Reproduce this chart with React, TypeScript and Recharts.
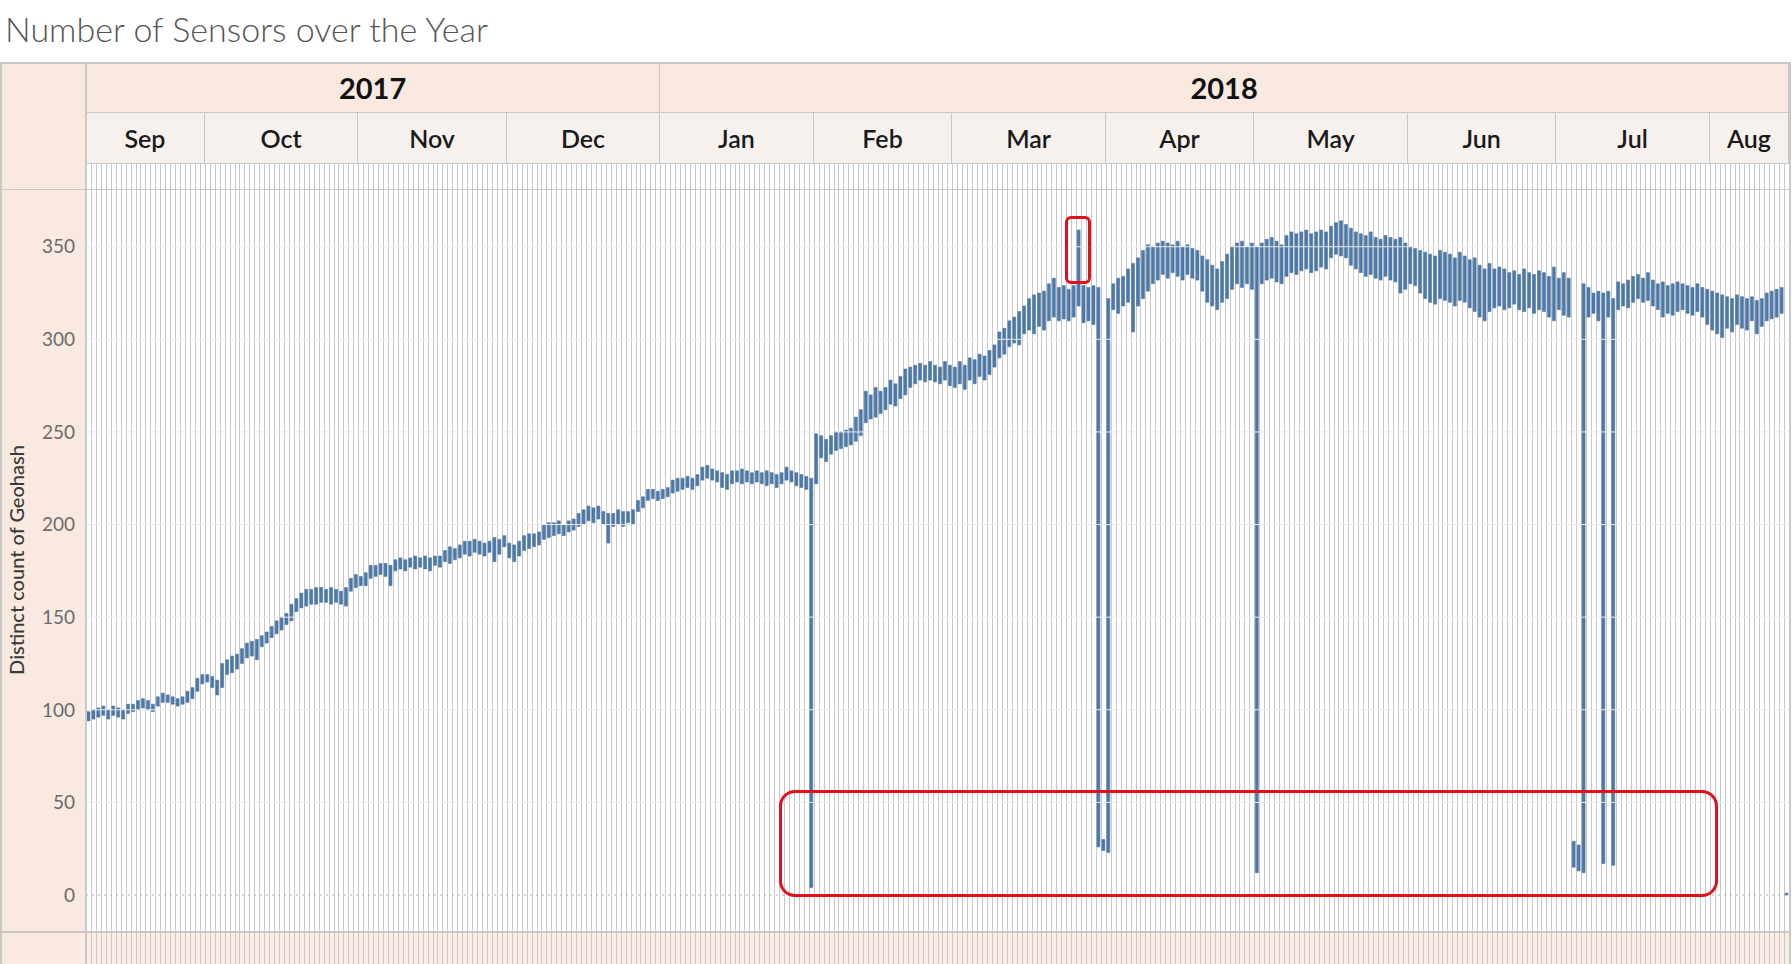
import React from "react";
import {
  Bar,
  CartesianGrid,
  ComposedChart,
  ReferenceLine,
  XAxis,
  YAxis,
} from "recharts";

// daily [min, max] of the distinct geohash count, one pair per day pane
const sep17 = [
  [94, 99], [95, 100], [96, 101], [97, 102], [95, 100], [97, 102], [96, 101], [95, 100],
  [98, 103], [99, 103], [100, 105], [101, 106], [100, 105], [99, 103], [102, 107], [104, 109],
  [104, 108], [103, 107], [102, 106], [103, 107], [104, 110], [106, 112], [110, 117], [114, 119],
];
const oct17 = [
  [115, 119], [112, 118], [108, 116], [112, 125], [119, 127], [120, 129], [122, 130], [125, 133],
  [128, 136], [129, 137], [127, 138], [134, 140], [136, 142], [139, 145], [141, 148], [143, 150],
  [146, 152], [148, 157], [153, 160], [155, 163], [156, 165], [157, 165], [157, 166], [158, 166],
  [158, 165], [157, 166], [158, 165], [157, 164], [156, 166], [164, 171], [166, 173],
];
const nov17 = [
  [167, 172], [167, 174], [171, 178], [172, 178], [173, 179], [172, 179], [167, 178], [175, 181],
  [176, 182], [175, 181], [177, 182], [176, 183], [177, 182], [176, 183], [175, 182], [178, 183],
  [177, 183], [180, 186], [179, 188], [181, 187], [182, 189], [184, 191], [183, 191], [185, 192],
  [184, 191], [183, 190], [185, 191], [180, 193], [184, 192], [188, 194],
];
const dec17 = [
  [182, 190], [180, 189], [183, 191], [186, 194], [187, 195], [188, 195], [189, 196], [192, 200],
  [193, 201], [194, 201], [195, 202], [194, 200], [196, 202], [197, 203], [199, 206], [200, 208],
  [202, 210], [201, 209], [203, 210], [200, 207], [190, 206], [199, 206], [200, 208], [199, 207],
  [201, 207], [200, 208], [207, 213], [209, 215], [213, 219], [214, 219], [213, 218],
];
const jan18 = [
  [214, 219], [215, 220], [217, 224], [218, 225], [219, 225], [220, 226], [219, 225], [221, 227],
  [224, 231], [225, 232], [224, 230], [223, 229], [220, 228], [219, 227], [222, 229], [223, 229],
  [222, 230], [223, 229], [222, 228], [223, 229], [222, 228], [221, 229], [222, 228], [220, 227],
  [222, 228], [224, 231], [223, 229], [221, 228], [220, 227], [219, 226], [4, 225],
];
const feb18 = [
  [222, 249], [236, 248], [234, 246], [238, 248], [240, 250], [241, 250], [242, 251], [243, 252],
  [245, 258], [248, 262], [255, 272], [257, 270], [258, 274], [260, 272], [262, 274], [265, 278],
  [264, 276], [268, 280], [270, 284], [274, 285], [276, 286], [278, 287], [277, 286], [278, 288],
  [277, 286], [276, 285], [278, 288], [275, 286],
];
const mar18 = [
  [274, 285], [276, 288], [273, 286], [278, 290], [276, 289], [280, 292], [278, 291], [281, 294],
  [285, 297], [290, 304], [292, 306], [296, 310], [298, 312], [297, 315], [303, 318], [305, 322],
  [303, 324], [307, 325], [305, 326], [310, 330], [312, 333], [310, 328], [311, 329], [310, 327],
  [312, 329], [318, 359], [309, 329], [310, 328], [308, 329], [26, 328], [24, 30],
];
const apr18 = [
  [23, 322], [316, 330], [314, 333], [318, 334], [320, 338], [304, 341], [318, 344], [322, 348],
  [326, 351], [330, 350], [332, 352], [335, 353], [333, 352], [336, 351], [334, 353], [332, 350],
  [335, 351], [333, 349], [332, 348], [326, 345], [320, 343], [318, 340], [316, 338], [320, 342],
  [322, 346], [327, 350], [330, 352], [328, 353], [330, 350], [327, 352],
];
const may18 = [
  [12, 350], [330, 352], [332, 354], [333, 355], [331, 353], [330, 351], [334, 356], [336, 358],
  [335, 357], [337, 358], [338, 359], [336, 357], [337, 358], [339, 359], [338, 358], [344, 361],
  [346, 363], [345, 364], [344, 362], [340, 360], [338, 358], [336, 357], [334, 356], [335, 358],
  [333, 355], [332, 354], [334, 356], [332, 355], [331, 354], [325, 355], [327, 352],
];
const jun18 = [
  [330, 350], [329, 349], [325, 348], [322, 347], [320, 346], [319, 345], [322, 348], [321, 347],
  [320, 346], [318, 344], [321, 347], [320, 345], [317, 343], [315, 344], [312, 340], [310, 338],
  [315, 341], [317, 338], [318, 339], [316, 338], [317, 336], [319, 337], [316, 335], [315, 338],
  [317, 336], [314, 335], [316, 337], [315, 336], [312, 334], [310, 339],
];
const jul18 = [
  [316, 333], [313, 336], [312, 333], [15, 29], [13, 27], [12, 330], [312, 328], [314, 325],
  [310, 326], [17, 325], [312, 326], [16, 322], [316, 331], [318, 330], [317, 332], [320, 334],
  [322, 335], [320, 333], [321, 336], [318, 332], [316, 330], [312, 331], [314, 329], [313, 330],
  [315, 331], [316, 330], [314, 329], [313, 328], [315, 330], [312, 328], [308, 327],
];
const aug18 = [
  [305, 326], [303, 325], [301, 324], [306, 323], [304, 322], [308, 324], [306, 323], [305, 322],
  [310, 323], [303, 321], [307, 322], [310, 325], [311, 326], [312, 327], [314, 328], [0, 1],
];

const monthLabels = ["Sep", "Oct", "Nov", "Dec", "Jan", "Feb", "Mar", "Apr", "May", "Jun", "Jul", "Aug"];
const monthFirstDay = [7, 1, 1, 1, 1, 1, 1, 1, 1, 1, 1, 1];
const monthValues = [sep17, oct17, nov17, dec17, jan18, feb18, mar18, apr18, may18, jun18, jul18, aug18];
const yearLabels = ["2017", "2018"];
const monthsPerYear = [4, 8];
const yTicks = [0, 50, 100, 150, 200, 250, 300, 350];
const gridTicks = [50, 100, 150, 200, 250, 300, 350];

const data = monthValues.flatMap((days, m) =>
  days.map((r, i) => ({
    day: `${monthLabels[m]} ${monthFirstDay[m] + i}`,
    range: r,
  }))
);

const W = 1792;
const PLOT_L = 86;
const PLOT_R = 1789;
const N = data.length;
const dayW = (PLOT_R - PLOT_L) / N;
const TABLE_TOP = 62;
const MONTH_TOP = 112;
const STRIP_TOP = 163;
const PLOT_TOP = 189;
const PLOT_BOTTOM = 931;
const H = 964;

const PINK = "#f9e9e0";
const LIGHT = "#f7f1ee";
const LINE = "#c8c8c8";
const BLUE = "#4e79a7";
const FONT = "Lato, 'Open Sans', sans-serif";

const monthStart: number[] = [];
monthValues.reduce((acc, d) => {
  monthStart.push(acc);
  return acc + d.length;
}, 0);

const dayLines = ({ offset }: any) => {
  const out: number[] = [];
  for (let i = 0; i <= N; i++) {
    out.push(Math.round(offset.left + (i * offset.width) / N) + 0.5);
  }
  return out;
};

const abs = (s: React.CSSProperties): React.CSSProperties => ({ position: "absolute", ...s });

export default function App() {
  let monthIdx = 0;
  const yearCells = yearLabels.map((y, k) => {
    const first = monthIdx;
    monthIdx += monthsPerYear[k];
    const startDay = monthStart[first];
    const endDay = monthIdx < monthStart.length ? monthStart[monthIdx] : N;
    return { y, left: PLOT_L + startDay * dayW, width: (endDay - startDay) * dayW };
  });

  return (
    <div style={abs({ left: 0, top: 0, width: W, height: H, background: "#fff", overflow: "hidden", fontFamily: FONT })}>
      <div
        style={abs({
          left: 5, top: 9, fontSize: 34, lineHeight: "40px", fontWeight: 300,
          color: "#555", fontFamily: FONT, whiteSpace: "nowrap",
        })}
      >
        Number of Sensors over the Year
      </div>

      {/* backgrounds */}
      <div style={abs({ left: 0, top: TABLE_TOP, width: PLOT_L, height: H - TABLE_TOP, background: PINK })} />
      <div style={abs({ left: PLOT_L, top: TABLE_TOP, width: PLOT_R - PLOT_L, height: MONTH_TOP - TABLE_TOP, background: PINK })} />
      <div style={abs({ left: PLOT_L, top: MONTH_TOP, width: PLOT_R - PLOT_L, height: STRIP_TOP - MONTH_TOP, background: LIGHT })} />
      <div style={abs({ left: PLOT_L, top: PLOT_BOTTOM, width: PLOT_R - PLOT_L, height: H - PLOT_BOTTOM, background: "#fbece5" })} />

      {/* year row */}
      {yearCells.map((c) => (
        <div
          key={c.y}
          style={abs({
            left: c.left, top: TABLE_TOP, width: c.width, height: MONTH_TOP - TABLE_TOP,
            display: "flex", alignItems: "center", justifyContent: "center",
            fontSize: 29, fontWeight: 700, color: "#111", borderRight: `1px solid ${LINE}`, boxSizing: "border-box",
          })}
        >
          {c.y}
        </div>
      ))}

      {/* month row */}
      {monthLabels.map((m, k) => (
        <div
          key={m}
          style={abs({
            left: PLOT_L + monthStart[k] * dayW, top: MONTH_TOP,
            width: monthValues[k].length * dayW, height: STRIP_TOP - MONTH_TOP,
            display: "flex", alignItems: "center", justifyContent: "center",
            fontSize: 25, fontWeight: 600, color: "#1a1a1a", borderRight: `1px solid ${LINE}`, boxSizing: "border-box",
          })}
        >
          {m}
        </div>
      ))}

      <div style={abs({ left: 0, top: PLOT_TOP, width: PLOT_L, height: PLOT_BOTTOM - PLOT_TOP, display: "flex", alignItems: "center", justifyContent: "center" })}>
        <div
          style={{
            transform: "rotate(-90deg)", whiteSpace: "nowrap", fontSize: 20,
            fontWeight: 500, color: "#3a3a3a", marginLeft: -54,
          }}
        >
          Distinct count of Geohash
        </div>
      </div>

      <div style={abs({ left: 0, top: STRIP_TOP })}>
        <ComposedChart
          width={W}
          height={H - STRIP_TOP}
          data={data}
          margin={{ top: 0, right: W - PLOT_R, bottom: 0, left: 0 }}
        >
          <XAxis dataKey="day" type="category" hide />
          <YAxis
            width={PLOT_L}
            type="number"
            domain={[-37.25, 395.2]}
            ticks={yTicks}
            allowDataOverflow
            axisLine={false}
            tickLine={false}
            tickSize={0}
            tickMargin={11}
            tick={{ fontSize: 19, fill: "#6b6b6b", fontFamily: FONT }}
          />
          <CartesianGrid
            horizontal={false}
            stroke={LINE}
            strokeOpacity={1}
            verticalCoordinatesGenerator={dayLines}
          />
          {gridTicks.map((v) => (
            <ReferenceLine key={v} y={v} stroke="#ececec" strokeWidth={1} />
          ))}
          <ReferenceLine y={0} stroke="#b0b0b0" strokeDasharray="2 4" />
          <Bar dataKey="range" fill={BLUE} stroke={BLUE} strokeWidth={0.6} barSize={3} isAnimationActive={false} />
        </ComposedChart>
      </div>

      {/* table borders */}
      <div style={abs({ left: 0, top: TABLE_TOP, width: PLOT_R + 1, height: 2, background: LINE })} />
      <div style={abs({ left: PLOT_L, top: MONTH_TOP, width: PLOT_R - PLOT_L, height: 1, background: LINE })} />
      <div style={abs({ left: PLOT_L, top: STRIP_TOP, width: PLOT_R - PLOT_L, height: 1, background: LINE })} />
      <div style={abs({ left: 0, top: PLOT_TOP, width: PLOT_R + 1, height: 1, background: LINE })} />
      <div style={abs({ left: 0, top: PLOT_BOTTOM, width: PLOT_R + 1, height: 2, background: LINE })} />
      <div style={abs({ left: 0, top: TABLE_TOP, width: 2, height: H - TABLE_TOP, background: LINE })} />
      <div style={abs({ left: PLOT_L - 1, top: TABLE_TOP, width: 2, height: H - TABLE_TOP, background: LINE })} />
      <div style={abs({ left: PLOT_R, top: TABLE_TOP, width: 2, height: H - TABLE_TOP, background: LINE })} />

      {/* annotations */}
      <div style={abs({ left: 1065, top: 216, width: 26, height: 68, border: "3px solid #e3101a", borderRadius: 6, boxSizing: "border-box" })} />
      <div style={abs({ left: 779, top: 790, width: 939, height: 107, border: "3px solid #e3101a", borderRadius: 16, boxSizing: "border-box" })} />
    </div>
  );
}
